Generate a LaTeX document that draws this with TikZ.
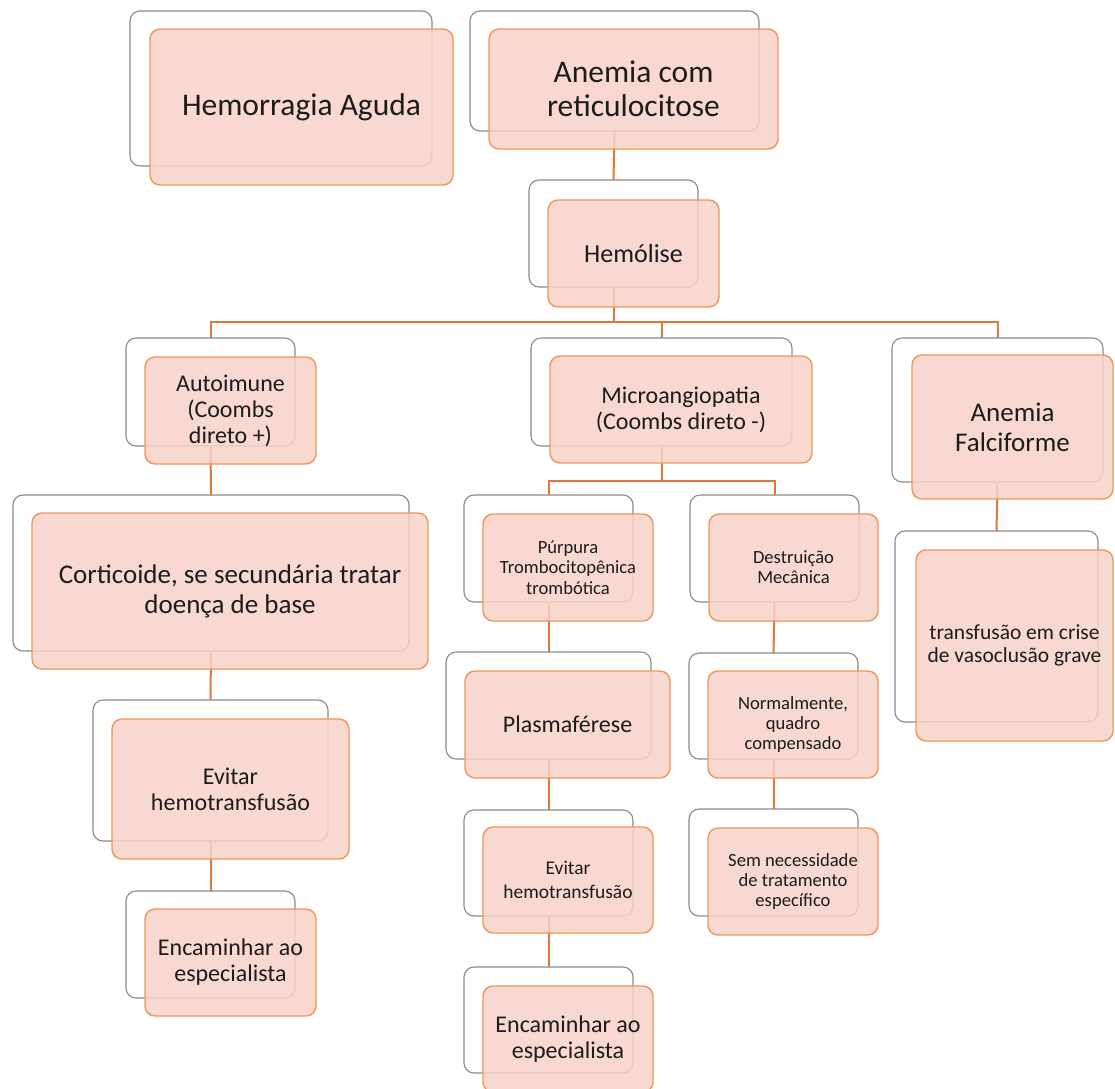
\documentclass[tikz,border=0pt]{standalone}
\usepackage{fontspec}
\setmainfont{Carlito}
\definecolor{frontfill}{HTML}{F7D2C8}
\definecolor{frontdraw}{HTML}{F0955A}
\definecolor{backdraw}{HTML}{8A8A8A}
\definecolor{connline}{HTML}{E0783A}
\definecolor{txt}{HTML}{1C1C1C}
\tikzset{
  backbox/.style={draw=backdraw, line width=1.1pt, fill=white, rounded corners=10pt, inner sep=0pt, outer sep=0pt},
  frontbox/.style={draw=frontdraw, line width=1.4pt, fill=frontfill, fill opacity=0.85, text opacity=1, text=txt, rounded corners=10pt, inner sep=0pt, outer sep=0pt, align=center},
  conn/.style={draw=connline, line width=2pt},
  fA/.style={font=\fontsize{31.5}{34}\selectfont},
  fB/.style={font=\fontsize{26}{28.5}\selectfont},
  fC/.style={font=\fontsize{24}{26}\selectfont},
  fD/.style={font=\fontsize{27}{30}\selectfont},
  fE/.style={font=\fontsize{18.6}{20.3}\selectfont},
  fF/.style={font=\fontsize{21.5}{22.5}\selectfont},
  fG/.style={font=\fontsize{19.5}{24}\selectfont},
}
\begin{document}
\begin{tikzpicture}[x=1pt,y=-1pt]
\useasboundingbox (0,0) rectangle (1115,1088);
% ---------- back boxes ----------
\node[backbox, minimum width=302pt, minimum height=155pt] (hemoB) at (281,88.5) {};
\node[backbox, minimum width=289pt, minimum height=120pt] (anemB) at (614.5,71) {};
\node[backbox, minimum width=169pt, minimum height=107pt] (hemlB) at (613.5,233.5) {};
\node[backbox, minimum width=169pt, minimum height=108pt] (autoB) at (210.5,392) {};
\node[backbox, minimum width=261pt, minimum height=108pt] (microB) at (661.5,392) {};
\node[backbox, minimum width=211pt, minimum height=144pt] (falcB) at (997.5,410) {};
\node[backbox, minimum width=203pt, minimum height=191pt] (transB) at (996.5,626.5) {};
\node[backbox, minimum width=396pt, minimum height=156pt] (cortB) at (211,573) {};
\node[backbox, minimum width=235pt, minimum height=141pt] (evLB) at (210.5,770.5) {};
\node[backbox, minimum width=169pt, minimum height=107pt] (enLB) at (210.5,944.5) {};
\node[backbox, minimum width=169pt, minimum height=107pt] (pttB) at (548.5,548.5) {};
\node[backbox, minimum width=169pt, minimum height=107pt] (destB) at (774.5,548.5) {};
\node[backbox, minimum width=205pt, minimum height=107pt] (plasB) at (548.5,705.5) {};
\node[backbox, minimum width=169pt, minimum height=106pt] (evMB) at (548.5,863) {};
\node[backbox, minimum width=169pt, minimum height=106pt] (enMB) at (548.5,1020) {};
\node[backbox, minimum width=169pt, minimum height=106pt] (normB) at (773.5,706) {};
\node[backbox, minimum width=169pt, minimum height=107pt] (semB) at (773.5,862.5) {};
% ---------- connectors ----------
\coordinate (busA) at (0,322);
\coordinate (busB) at (0,481);
\draw[conn] (anemB.south) -- (hemlB.north);
\draw[conn] (hemlB.south) -- (hemlB.south |- busA);
\draw[conn] (autoB.north) -- (autoB.north |- busA) -- (falcB.north |- busA) -- (falcB.north);
\draw[conn] (microB.north |- busA) -- (microB.north);
\draw[conn] (microB.south) -- (microB.south |- busB);
\draw[conn] (pttB.north) -- (pttB.north |- busB) -- (destB.north |- busB) -- (destB.north);
\draw[conn] (falcB.south) -- (transB.north);
\draw[conn] (autoB.south) -- (cortB.north);
\draw[conn] (cortB.south) -- (evLB.north);
\draw[conn] (evLB.south) -- (enLB.north);
\draw[conn] (pttB.south) -- (plasB.north);
\draw[conn] (plasB.south) -- (evMB.north);
\draw[conn] (evMB.south) -- (enMB.north);
\draw[conn] (destB.south) -- (normB.north);
\draw[conn] (normB.south) -- (semB.north);
% ---------- front boxes ----------
\node[frontbox, fA, minimum width=303pt, minimum height=156pt] (hemo) at (301.5,107) {Hemorragia Aguda};
\node[frontbox, fA, minimum width=289pt, minimum height=120pt] (anem) at (633.5,89) {Anemia com\\reticulocitose};
\node[frontbox, fB, minimum width=171pt, minimum height=107pt] (heml) at (633.5,253.5) {Hemólise};
\node[frontbox, fC, minimum width=171pt, minimum height=107pt] (auto) at (230.5,410.5) {Autoimune\\(Coombs\\direto +)};
\node[frontbox, fC, minimum width=262pt, minimum height=107pt] (micro) at (681,409.5) {Microangiopatia\\(Coombs direto -)};
\node[frontbox, fD, minimum width=201pt, minimum height=144pt] (falc) at (1012.5,427) {Anemia\\Falciforme};
\node[frontbox, fF, minimum width=197pt, minimum height=191pt] (trans) at (1014.5,645.5) {transfusão em crise\\de vasoclusão grave};
\node[frontbox, fD, minimum width=396pt, minimum height=156pt] (cort) at (230,591) {Corticoide, se secundária tratar\\doença de base};
\node[frontbox, fC, minimum width=237pt, minimum height=140pt] (evL) at (230.5,789) {Evitar\\hemotransfusão};
\node[frontbox, fC, minimum width=171pt, minimum height=107pt] (enL) at (230.5,962.5) {Encaminhar ao\\especialista};
\node[frontbox, fE, minimum width=170pt, minimum height=107pt] (ptt) at (568,567.5) {Púrpura\\Trombocitopênica\\trombótica};
\node[frontbox, fE, minimum width=169pt, minimum height=107pt] (dest) at (793.5,567.5) {Destruição\\Mecânica};
\node[frontbox, fC, minimum width=205pt, minimum height=107pt] (plas) at (567.5,724.5) {Plasmaférese};
\node[frontbox, fG, minimum width=170pt, minimum height=106pt] (evM) at (568,880) {Evitar\\hemotransfusão};
\node[frontbox, fC, minimum width=170pt, minimum height=106pt] (enM) at (568,1039) {Encaminhar ao\\especialista};
\node[frontbox, fE, minimum width=170pt, minimum height=107pt] (norm) at (793,724.5) {Normalmente,\\quadro\\compensado};
\node[frontbox, fE, minimum width=170pt, minimum height=107pt] (sem) at (793,881.5) {Sem necessidade\\de tratamento\\específico};
\end{tikzpicture}
\end{document}
